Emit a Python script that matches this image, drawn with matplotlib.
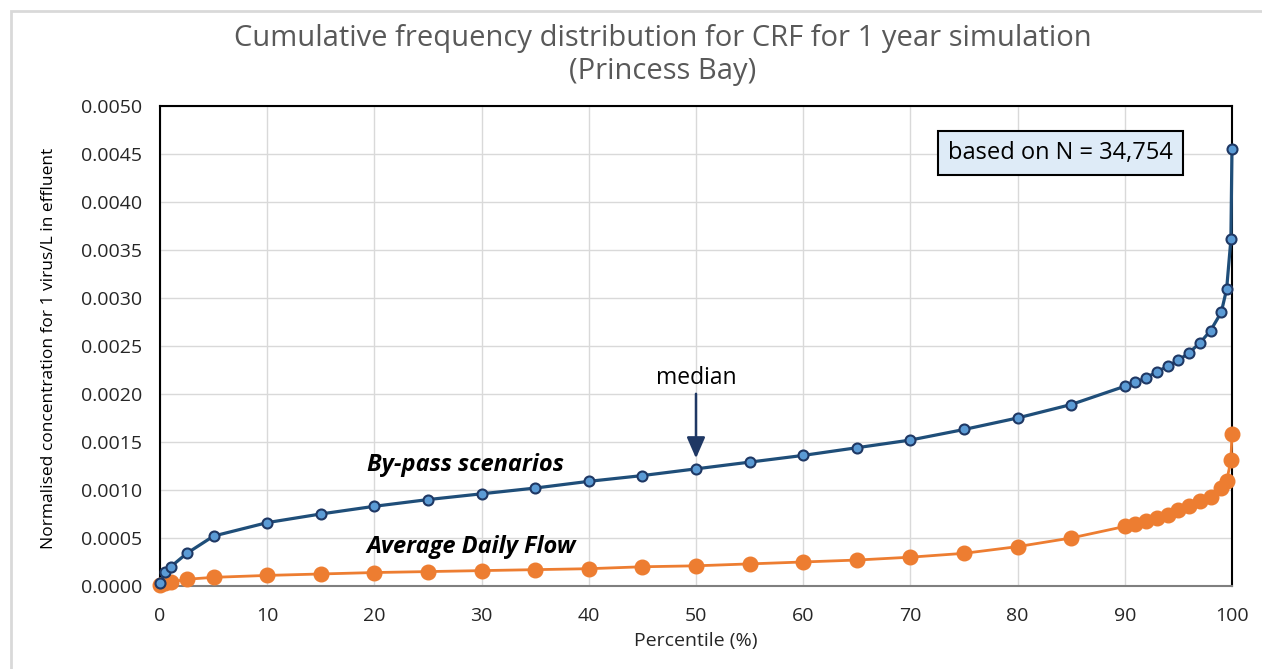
import matplotlib
matplotlib.use('Agg')
import matplotlib.pyplot as plt
from matplotlib.patches import Rectangle

plt.rcParams['font.family'] = ['Open Sans', 'DejaVu Sans']

# Percentile positions (%) shared by both series
pct = [0, 0.5, 1, 2.5, 5, 10, 15, 20, 25, 30, 35, 40, 45, 50, 55, 60, 65, 70,
       75, 80, 85, 90, 91, 92, 93, 94, 95, 96, 97, 98, 99, 99.5, 99.9, 100]

# By-pass scenarios
bypass = [0.00003, 0.00015, 0.00020, 0.00034, 0.00052, 0.00066, 0.00075,
          0.00083, 0.00090, 0.00096, 0.00102, 0.00109, 0.00115, 0.00122,
          0.00129, 0.00136, 0.00144, 0.00152, 0.00163, 0.00175, 0.00189,
          0.00208, 0.00212, 0.00217, 0.00223, 0.00229, 0.00235, 0.00243,
          0.00253, 0.00266, 0.00285, 0.00309, 0.00361, 0.00455]

# Average daily flow
adf = [0.00001, 0.00003, 0.00004, 0.00007, 0.00009, 0.00011, 0.000125,
       0.00014, 0.00015, 0.00016, 0.00017, 0.00018, 0.00020, 0.00021,
       0.00023, 0.00025, 0.00027, 0.00030, 0.00034, 0.00041, 0.00050,
       0.00062, 0.00065, 0.00068, 0.00071, 0.00074, 0.00079, 0.00083,
       0.00089, 0.00093, 0.00102, 0.00109, 0.00131, 0.00158]

xticks = list(range(0, 101, 10))
yticks = [i * 0.0005 for i in range(11)]

fig = plt.figure(figsize=(12.62, 6.69), dpi=100)
ax = fig.add_axes([0.1268, 0.1241, 0.8494, 0.7175])

# outer chart border
fig.patches.append(Rectangle((11 / 1262, -0.05), 1.2, (669 - 11) / 669 + 0.05,
                             transform=fig.transFigure, fill=False,
                             edgecolor='#D9D9D9', linewidth=2))

ax.plot(pct, adf, color='#ED7D31', linewidth=2, marker='o', markersize=10.5,
        markerfacecolor='#ED7D31', markeredgecolor='#ED7D31', clip_on=False, zorder=3)
ax.plot(pct, bypass, color='#1F4E79', linewidth=2.3, marker='o', markersize=7.2,
        markerfacecolor='#5B9BD5', markeredgecolor='#1F3864', markeredgewidth=1.5,
        clip_on=False, zorder=4)

ax.set_xlim(0, 100)
ax.set_ylim(0, 0.005)
ax.set_xticks(xticks)
ax.set_yticks(yticks)
ax.set_yticklabels([f'{v:.4f}' for v in yticks])
ax.tick_params(length=0, labelsize=14, colors='#262626')
ax.tick_params(axis='y', pad=13)
ax.tick_params(axis='x', pad=15)
ax.grid(True, color='#D9D9D9', linewidth=1)
ax.set_axisbelow(True)
for s in ['left', 'top', 'right']:
    ax.spines[s].set_color('black')
    ax.spines[s].set_linewidth(1.5)
ax.spines['bottom'].set_color('#7F7F7F')
ax.spines['bottom'].set_linewidth(1.5)

ax.set_xlabel('Percentile (%)', fontsize=14, color='#262626')
ax.xaxis.set_label_coords(0.5, -0.096)
ax.set_ylabel('Normalised concentration for 1 virus/L in effluent', fontsize=12.5,
              color='black')
ax.yaxis.set_label_coords(-0.096, 0.496)

fig.text(0.5254, 0.918, 'Cumulative frequency distribution for CRF for 1 year simulation\n(Princess Bay)',
         ha='center', va='center', fontsize=21, color='#595959', linespacing=1.15)

ax.text(84, 0.00451, 'based on N = 34,754', ha='center', va='center', fontsize=17,
        color='black',
        bbox=dict(boxstyle='square,pad=0.42', facecolor='#DEEBF7', edgecolor='black', linewidth=1.5))

ax.annotate('median', xy=(50, 0.00133), xytext=(50, 0.00217), ha='center', va='center',
            fontsize=16.5, color='black',
            arrowprops=dict(arrowstyle='-|>,head_width=0.35,head_length=0.8', color='#1F3864',
                            lw=1.8, mutation_scale=16, shrinkA=1, shrinkB=0))

ax.text(19.3, 0.00126, 'By-pass scenarios', ha='left', va='center', fontsize=17,
        fontweight='bold', fontstyle='italic', color='black')
ax.text(19.3, 0.00041, 'Average Daily Flow', ha='left', va='center', fontsize=17,
        fontweight='bold', fontstyle='italic', color='black')

fig.savefig('out.png', dpi=100)
